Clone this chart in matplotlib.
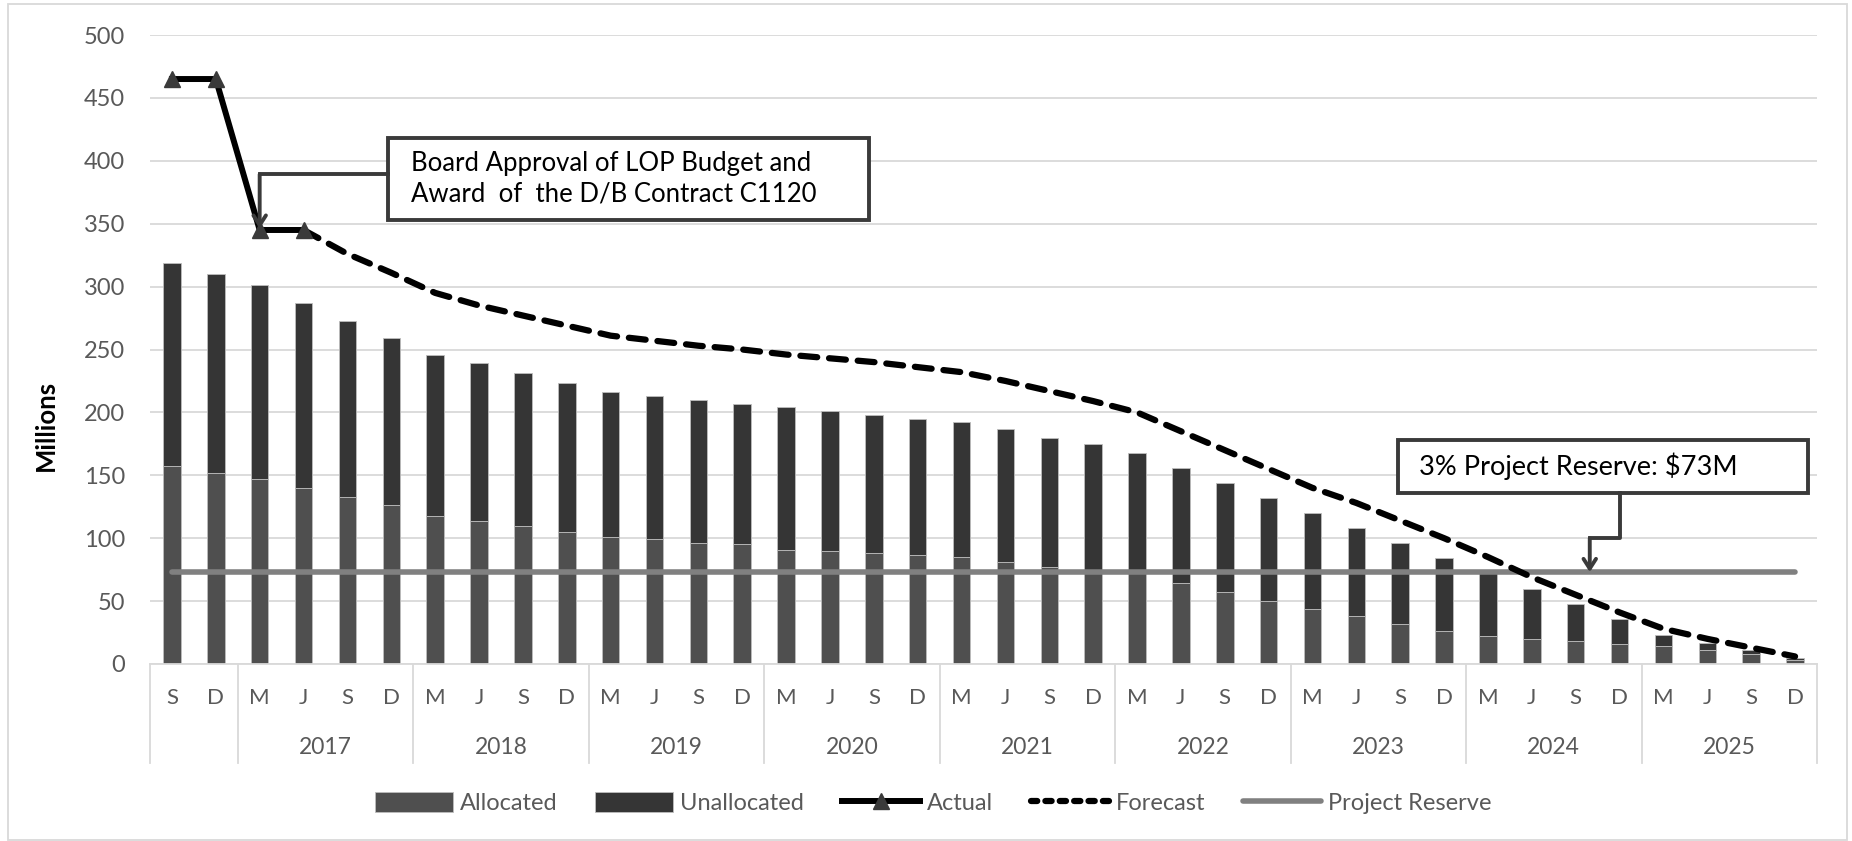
import matplotlib
matplotlib.use("Agg")
import matplotlib.pyplot as plt
import numpy as np
from matplotlib.patches import Rectangle, Patch
from matplotlib.lines import Line2D

plt.rcParams['font.family'] = ['Lato', 'DejaVu Sans']

#données
months = ['S', 'D',
          'M', 'J', 'S', 'D', 'M', 'J', 'S', 'D', 'M', 'J', 'S', 'D',
          'M', 'J', 'S', 'D', 'M', 'J', 'S', 'D', 'M', 'J', 'S', 'D',
          'M', 'J', 'S', 'D', 'M', 'J', 'S', 'D', 'M', 'J', 'S', 'D']
years = ['', '2017', '2018', '2019', '2020', '2021', '2022', '2023', '2024', '2025']
year_sizes = [2, 4, 4, 4, 4, 4, 4, 4, 4, 4]

allocated = [157, 152, 147, 140, 133, 126, 118, 114, 110, 105,
             101, 99, 96, 95, 91, 90, 88, 87, 85, 81,
             77, 74, 72, 64, 57, 50, 44, 38, 32, 26,
             22, 20, 18, 16, 14, 11, 8, 3]
unallocated = [162, 158, 154, 147, 140, 133, 128, 125, 121, 118,
               115, 114, 114, 112, 113, 111, 110, 108, 107, 106,
               103, 101, 96, 92, 87, 82, 76, 70, 64, 58,
               50, 40, 30, 20, 9, 6, 3, 2]
nan = np.nan
actual = [465, 465, 345, 345] + [nan] * 34
forecast = [nan, nan, nan, 345, 326, 311, 295, 285, 277, 269,
            261, 257, 253, 250, 246, 243, 240, 236, 232, 225,
            217, 209, 200, 185, 170, 155, 140, 128, 114, 100,
            85, 69, 55, 41, 28, 20, 13, 6]
reserve = 73

note1 = "Board Approval of LOP Budget and\nAward  of  the D/B Contract C1120"
note2 = "3% Project Reserve: $73M"

#figure
W, H = 1852, 841
fig = plt.figure(figsize=(W / 100, H / 100), dpi=100)
ax = fig.add_axes([150 / W, 1 - 664 / H, (1817 - 150) / W, (664 - 35) / H])

x = np.arange(len(months))
c_alloc, c_unalloc = '#4f4f4f', '#353535'
grid_c = '#d9d9d9'
txt_c = '#595959'
box_c = '#3a3a3a'

ax.bar(x, allocated, width=0.4, color=c_alloc, edgecolor='#bdbdbd', linewidth=0.6, zorder=2)
ax.bar(x, unallocated, width=0.4, bottom=allocated, color=c_unalloc, edgecolor='#bdbdbd', linewidth=0.6, zorder=2)

ax.plot(x, [reserve] * len(x), color='#808080', lw=4, solid_capstyle='round', zorder=3)
ax.plot(x, forecast, color='black', lw=4.5, linestyle=(0, (2.7, 1.9)), dash_capstyle='round', zorder=4)
ax.plot(x, actual, color='black', lw=4.3, marker='^', markersize=12,
        mfc='#3a3a3a', mec='#3a3a3a', zorder=5)

ax.set_xlim(-0.5, len(months) - 0.5)
ax.set_ylim(0, 500)
ax.set_yticks(np.arange(0, 501, 50))
ax.tick_params(axis='y', length=0, pad=18, labelsize=17, labelcolor=txt_c)
ax.set_xticks([])
ax.yaxis.grid(True, color=grid_c, lw=1.3)
ax.set_axisbelow(True)
for s in ['top', 'right', 'left']:
    ax.spines[s].set_visible(False)
ax.spines['bottom'].set_color(grid_c)
ax.spines['bottom'].set_linewidth(1.3)

#axe x à deux niveaux
tr = ax.get_xaxis_transform()
for i, m in enumerate(months):
    ax.text(i, -0.054, m, transform=tr, ha='center', va='center', fontsize=16, color=txt_c)
start = -0.5
ax.plot([start, start], [0, -0.157], transform=tr, color=grid_c, lw=1.3, clip_on=False)
for y, n in zip(years, year_sizes):
    ax.text(start + n / 2, -0.1335, y, transform=tr, ha='center', va='center', fontsize=16.5, color=txt_c)
    start += n
    ax.plot([start, start], [0, -0.157], transform=tr, color=grid_c, lw=1.3, clip_on=False)

#annotations
ax.add_patch(Rectangle((4.92, 353), 15.88 - 4.92, 418.5 - 353, facecolor='white',
                       edgecolor=box_c, lw=2.8, zorder=6))
ax.text(5.44, 385.7, note1, ha='left', va='center', fontsize=18.5, color='black',
        linespacing=1.3, zorder=7)
ax.plot([4.92, 2.0], [389.2, 389.2], color=box_c, lw=2.8, zorder=6)
ax.annotate('', xy=(2.0, 346), xytext=(2.0, 389.2),
            arrowprops=dict(arrowstyle='->,head_length=0.7,head_width=0.45', lw=2.8,
                            color=box_c, shrinkA=0, shrinkB=0), zorder=6)

ax.add_patch(Rectangle((27.95, 136.2), 37.29 - 27.95, 178 - 136.2, facecolor='white',
                       edgecolor=box_c, lw=2.8, zorder=6, clip_on=False))
ax.text(28.43, 157.1, note2, ha='left', va='center', fontsize=19.5, color='black', zorder=7)
ax.plot([33.0, 33.0, 32.32], [136.2, 99.9, 99.9], color=box_c, lw=2.8, zorder=6)
ax.annotate('', xy=(32.32, 73), xytext=(32.32, 99.9),
            arrowprops=dict(arrowstyle='->,head_length=0.7,head_width=0.45', lw=2.8,
                            color=box_c, shrinkA=0, shrinkB=0), zorder=6)

fig.text(46 / W, 1 - 425 / H, 'Millions', rotation=90, ha='center', va='center',
         fontsize=18.5, fontweight='bold', color='black')

#légende
handles = [
    Patch(facecolor=c_alloc, edgecolor='#bdbdbd', lw=0.6),
    Patch(facecolor=c_unalloc, edgecolor='#bdbdbd', lw=0.6),
    Line2D([], [], color='black', lw=4.3, marker='^', markersize=12, mfc='#3a3a3a', mec='#3a3a3a'),
    Line2D([], [], color='black', lw=4.5, linestyle=(0, (1.0, 1.3)), dash_capstyle='round'),
    Line2D([], [], color='#808080', lw=4, solid_capstyle='round'),
]
labels = ['Allocated', 'Unallocated', 'Actual', 'Forecast', 'Project Reserve']
leg = fig.legend(handles, labels, loc='center', bbox_to_anchor=(0.504, 1 - 803 / H), ncol=5,
                 frameon=False, fontsize=17, handlelength=3.3, handleheight=0.9,
                 columnspacing=1.6, handletextpad=0.3)
for t in leg.get_texts():
    t.set_color(txt_c)

#cadre extérieur
fig.patches.append(Rectangle((8 / W, 1 / H), (1847 - 8) / W, (837 - 1) / H, fill=False,
                             edgecolor=grid_c, lw=1.3, transform=fig.transFigure))

fig.savefig('out.png', dpi=100)
